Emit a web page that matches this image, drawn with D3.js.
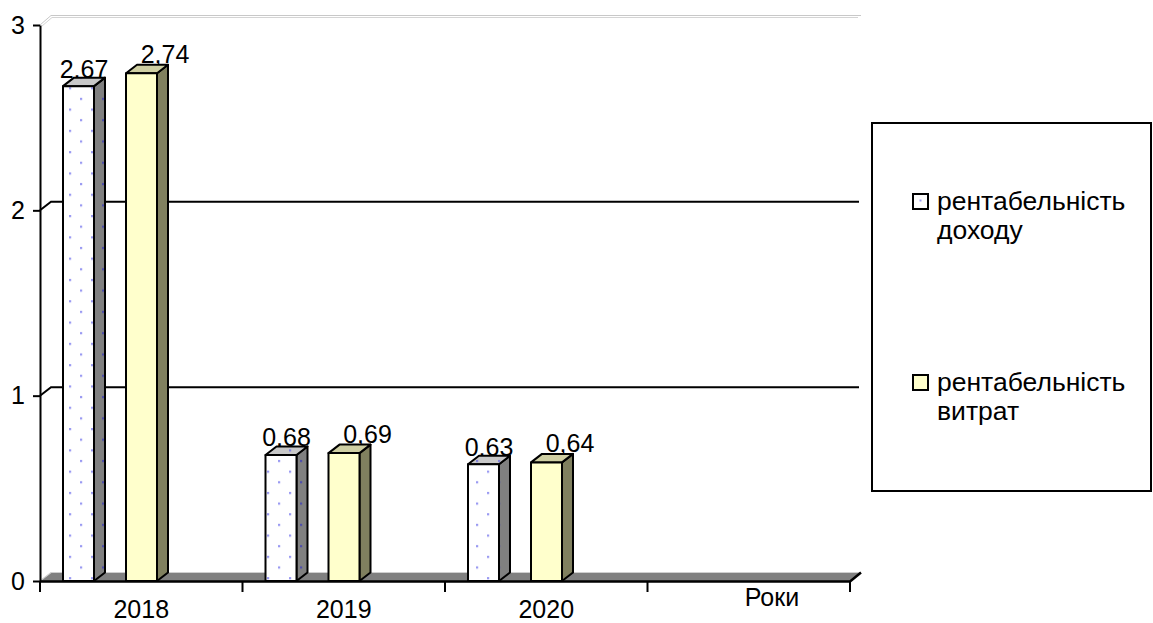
<!DOCTYPE html>
<html>
<head>
<meta charset="utf-8">
<script src="https://cdn.jsdelivr.net/npm/d3@7"></script>
<style>
  body { margin: 0; background: #fff; }
  text { font-family: "Liberation Sans", Arial, sans-serif; fill: #000; }
</style>
</head>
<body>
<svg id="chart" width="1153" height="623"></svg>
<script>
// Profitability indicators by year
const categories = ["2018", "2019", "2020", ""];
const incomeProfitability = [2.67, 0.68, 0.63];
const costProfitability = [2.74, 0.69, 0.64];
const seriesLabels = [["рентабельність", "доходу"], ["рентабельність", "витрат"]];
const yTickValues = [0, 1, 2, 3];
const xAxisTitle = "Роки";

const series = [
  { key: 0, values: incomeProfitability, front: "url(#dotsFront)", top: "url(#dotsTop)", side: "url(#dotsSide)", labelShift: 0, labelLift: 0 },
  { key: 1, values: costProfitability, front: "#ffffcc", top: "#cfcfa3", side: "#80805f", labelShift: 18, labelLift: 2 }
];

const svg = d3.select("#chart");
const fontSize = 25;
const legendFontSize = 26.5;
const depth = { dx: 11, dy: -8.5 };

const x = d3.scaleBand().domain(categories).range([40, 850]);
const xs = d3.scaleBand().domain(series.map(s => s.key)).range([23, 117]).paddingInner(0.508);
const y = d3.scaleLinear().domain([0, 3]).range([581, 25]);

const locale = d3.formatLocale({ decimal: ",", thousands: " ", grouping: [3], currency: ["", ""] });
const fmt = locale.format(".2f");

// dotted fills for the first series
const defs = svg.append("defs");
function dotPattern(id, bg, dot) {
  const p = defs.append("pattern").attr("id", id).attr("patternUnits", "userSpaceOnUse")
    .attr("x", 3).attr("y", 2).attr("width", 22).attr("height", 21.3);
  p.append("rect").attr("width", 22).attr("height", 21.3).attr("fill", bg);
  p.append("rect").attr("x", 0).attr("y", 0).attr("width", 2.2).attr("height", 2.2).attr("fill", dot);
  p.append("rect").attr("x", 11).attr("y", 10.6).attr("width", 2.2).attr("height", 2.2).attr("fill", dot);
}
dotPattern("dotsFront", "#ffffff", "#9a9af2");
dotPattern("dotsTop", "#c8c8c8", "#8080dc");
dotPattern("dotsSide", "#808080", "#4e4eaa");

const y0 = y(0);
const xStart = x.range()[0], xEnd = x.range()[1];

// back wall top edge
svg.append("path")
  .attr("d", `M${xStart},${y(3)}L${xStart + depth.dx},${y(3) + depth.dy - 1}L${xEnd + depth.dx},${y(3) + depth.dy - 1}`)
  .attr("fill", "none").attr("stroke", "#c8c8c8").attr("stroke-width", 1);
svg.append("path")
  .attr("d", `M${xStart + 2},${y(3) + 1}L${xStart + depth.dx + 1},${y(3) + depth.dy + 1}L${xEnd + depth.dx - 3},${y(3) + depth.dy + 1}`)
  .attr("fill", "none").attr("stroke", "#d4d4d4").attr("stroke-width", 1);

// gridlines on the back wall
svg.append("g").selectAll("path")
  .data(yTickValues.filter(v => v > 0 && v < 3))
  .join("path")
  .attr("d", v => `M${xStart},${y(v)}L${xStart + depth.dx},${y(v) + depth.dy}L${xEnd + depth.dx - 2},${y(v) + depth.dy}`)
  .attr("fill", "none").attr("stroke", "#000").attr("stroke-width", 2);

// floor
svg.append("path")
  .attr("d", `M${xStart},${y0}L${xEnd},${y0}L${xEnd + depth.dx},${y0 + depth.dy}L${xStart + depth.dx},${y0 + depth.dy}Z`)
  .attr("fill", "#808080");
svg.append("path")
  .attr("d", `M${xStart},${y0}L${xStart + depth.dx},${y0 + depth.dy}L${xEnd + depth.dx},${y0 + depth.dy}`)
  .attr("fill", "none").attr("stroke", "#cfcfcf").attr("stroke-width", 1.2);
svg.append("path")
  .attr("d", `M${xStart},${y0 + 0.5}L${xEnd},${y0 + 0.5}L${xEnd + depth.dx},${y0 + depth.dy}`)
  .attr("fill", "none").attr("stroke", "#000").attr("stroke-width", 2.5);

// value labels (drawn beneath the columns)
const points = [];
series.forEach(s => s.values.forEach((v, i) => points.push({ s, v, cat: categories[i] })));

svg.append("g").selectAll("text")
  .data(points)
  .join("text")
  .attr("x", d => x(d.cat) + xs(d.s.key) + (xs.bandwidth() + depth.dx) / 2 + d.s.labelShift)
  .attr("y", d => y(d.v) + depth.dy - d.s.labelLift)
  .attr("text-anchor", "middle")
  .attr("font-size", fontSize)
  .text(d => fmt(d.v));

// 3D columns
const bars = svg.append("g").selectAll("g")
  .data(points)
  .join("g")
  .attr("stroke", "#000").attr("stroke-width", 2).attr("stroke-linejoin", "round");

bars.each(function (d) {
  const g = d3.select(this);
  const x0 = x(d.cat) + xs(d.s.key), w = xs.bandwidth();
  const yt = y(d.v), yb = y0;
  g.append("path")
    .attr("d", `M${x0 + w},${yt}L${x0 + w + depth.dx},${yt + depth.dy}L${x0 + w + depth.dx},${yb + depth.dy}L${x0 + w},${yb}Z`)
    .attr("fill", d.s.side);
  g.append("path")
    .attr("d", `M${x0},${yt}L${x0 + w},${yt}L${x0 + w + depth.dx},${yt + depth.dy}L${x0 + depth.dx},${yt + depth.dy}Z`)
    .attr("fill", d.s.top);
  g.append("rect")
    .attr("x", x0).attr("y", yt).attr("width", w).attr("height", yb - yt)
    .attr("fill", d.s.front);
});

// value axis
const yAxis = svg.append("g")
  .attr("transform", `translate(${xStart},0)`)
  .call(d3.axisLeft(y).tickValues(yTickValues).tickFormat(d3.format("d"))
    .tickSize(7).tickSizeOuter(0).tickPadding(8));
yAxis.selectAll("path, line").attr("stroke", "#000").attr("stroke-width", 2);
yAxis.selectAll("text").attr("font-size", fontSize).attr("font-family", null).attr("fill", "#000");

// category axis: boundary ticks and centred labels
const boundaries = categories.map(c => x(c)).concat([xEnd]);
svg.append("g").selectAll("line")
  .data(boundaries)
  .join("line")
  .attr("x1", d => d).attr("x2", d => d)
  .attr("y1", y0).attr("y2", y0 + 11)
  .attr("stroke", "#000").attr("stroke-width", 2);

const xAxis = svg.append("g")
  .attr("transform", `translate(0,${y0})`)
  .call(d3.axisBottom(x).tickSize(0).tickPadding(19));
xAxis.select(".domain").remove();
xAxis.selectAll("text").attr("font-size", fontSize).attr("font-family", null).attr("fill", "#000");

svg.append("text")
  .attr("x", 772).attr("y", 606)
  .attr("text-anchor", "middle")
  .attr("font-size", fontSize)
  .text(xAxisTitle);

// legend
const legend = svg.append("g");
legend.append("rect")
  .attr("x", 872).attr("y", 123).attr("width", 279).attr("height", 368)
  .attr("fill", "#fff").attr("stroke", "#000").attr("stroke-width", 2);

const legendRows = [
  { s: series[0], lines: seriesLabels[0], top: 194, fill: "#fff" },
  { s: series[1], lines: seriesLabels[1], top: 375, fill: "#ffffcc" }
];
const items = legend.selectAll("g.item").data(legendRows).join("g").attr("class", "item");
items.append("rect")
  .attr("x", 913).attr("y", d => d.top).attr("width", 15).attr("height", 15)
  .attr("fill", d => d.fill).attr("stroke", "#000").attr("stroke-width", 2);
items.filter(d => d.s.key === 0).append("rect")
  .attr("x", 919.5).attr("y", d => d.top + 5.5).attr("width", 2).attr("height", 2).attr("fill", "#9a9af2");
items.append("text")
  .attr("x", 937).attr("y", d => d.top + 16)
  .attr("font-size", legendFontSize)
  .selectAll("tspan")
  .data(d => d.lines)
  .join("tspan")
  .attr("x", 937)
  .attr("dy", (d, i) => i === 0 ? 0 : 29)
  .text(d => d);
</script>
</body>
</html>
